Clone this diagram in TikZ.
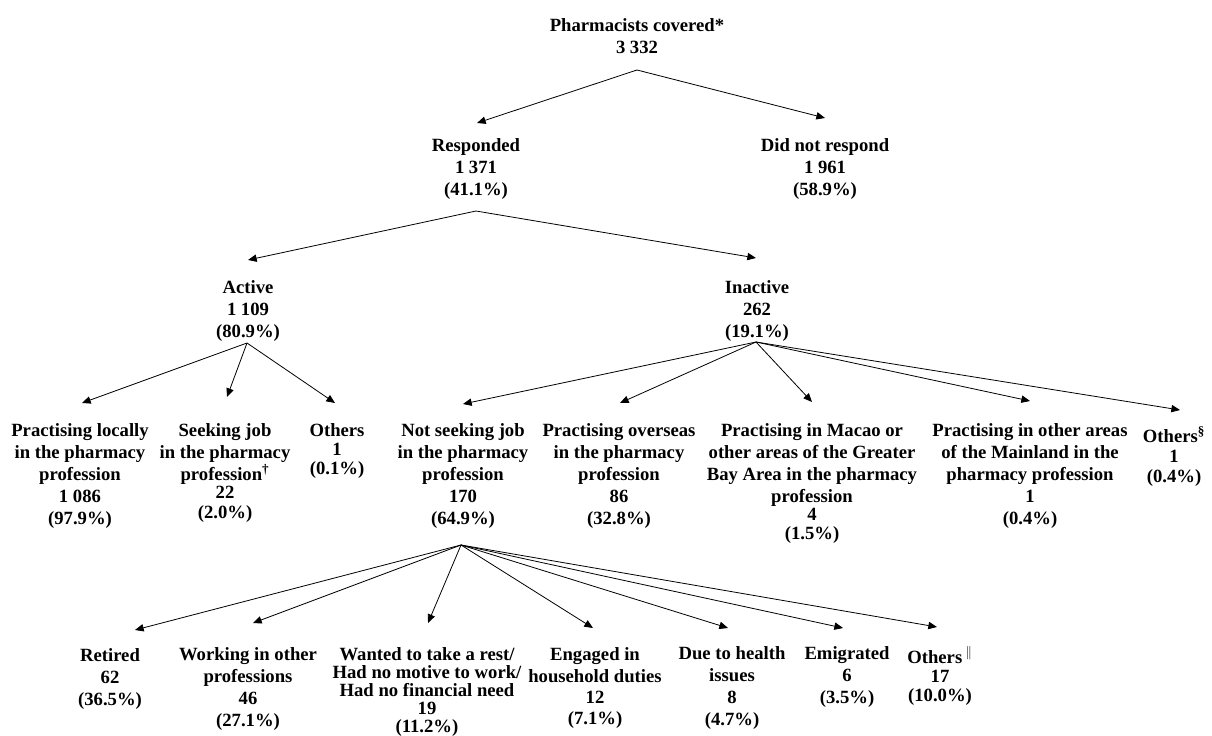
\documentclass[tikz,border=0pt]{standalone}
\usepackage{fontspec}
\setmainfont{Liberation Serif}
\usetikzlibrary{arrows.meta,calc}
\tikzset{
  lbl/.style={align=center, inner sep=0pt, anchor=north,
    font=\bfseries\fontsize{14}{16.5}\selectfont},
  arr/.style={line width=0.6pt, -{Triangle[length=6.5pt,width=5.5pt]}}
}
\begin{document}
\begin{tikzpicture}[x=0.75pt,y=-0.75pt]
\useasboundingbox[fill=white] (0,0) rectangle (1212,735);
% level 0-2
\node[lbl] (top) at (637,16) {\strut Pharmacists covered*\\3 332};
\node[lbl] (resp) at (476,136) {\strut Responded\\1 371\\(41.1\%)};
\node[lbl] (nresp) at (825,136) {\strut Did not respond\\1 961\\(58.9\%)};
\node[lbl] (act) at (248,278) {\strut Active\\1 109\\(80.9\%)};
\node[lbl] (inact) at (757,278) {\strut Inactive\\262\\(19.1\%)};
% level 3
\node[lbl] (loc) at (80,421) {\strut Practising locally\\in the pharmacy\\profession\\1 086\\(97.9\%)};
\node[lbl] (seek) at (225,421) {\strut Seeking job\\in the pharmacy\\profession\textsuperscript{\dag}\\[-3pt]22\\[-2pt](2.0\%)};
\node[lbl] (oth1) at (337,421) {\strut Others\\[-2.25pt]1\\[-2.25pt](0.1\%)};
\node[lbl] (nseek) at (463,421) {\strut Not seeking job\\in the pharmacy\\profession\\170\\(64.9\%)};
\node[lbl] (over) at (619,421) {\strut Practising overseas\\in the pharmacy\\profession\\86\\(32.8\%)};
\node[lbl] (macao) at (812,421) {\strut Practising in Macao or\\other areas of the Greater\\Bay Area in the pharmacy\\profession\\[-3pt]4\\[-2.25pt](1.5\%)};
\node[lbl] (main) at (1030,421) {\strut Practising in other areas\\of the Mainland in the\\pharmacy profession\\1\\(0.4\%)};
\node[lbl] (oth2) at (1174,426) {\strut Others\textsuperscript{\S}\\[-1.5pt]1\\[-1.5pt](0.4\%)};
% level 4
\node[lbl] (ret) at (110,646) {\strut Retired\\62\\(36.5\%)};
\node[lbl] (work) at (248,645) {\strut Working in other\\professions\\46\\(27.1\%)};
\node[lbl] (want) at (427,645) {\strut Wanted to take a rest/\\[-3pt]Had no motive to work/\\[-3pt]Had no financial need\\[-3pt]19\\[-3pt](11.2\%)};
\node[lbl] (eng) at (595,645) {\strut Engaged in\\household duties\\[-0.75pt]12\\[-0.75pt](7.1\%)};
\node[lbl] (due) at (732,644) {\strut Due to health\\issues\\8\\(4.7\%)};
\node[lbl] (emi) at (847,644) {\strut Emigrated\\6\\(3.5\%)};
\node[lbl] (oth3) at (940,646) {\strut Others\,$^{\|}$\\[-2.25pt]17\\[-2.25pt](10.0\%)};
% hubs
\coordinate (h0) at (637,70);
\coordinate (h1) at (476,211);
\coordinate (hA) at (247,343);
\coordinate (hI) at (756,342);
\coordinate (hN) at (461,545);
% connectors
\draw[arr] (h0) -- ($(resp.north)+(1,-13)$);
\draw[arr] (h0) -- ($(nresp.north)+(0,-18)$);
\draw[arr] (h1) -- ($(act.north)+(0,-18)$);
\draw[arr] (h1) -- ($(inact.north)+(-1,-20)$);
\draw[arr] (hA) -- ($(loc.north)+(2,-18)$);
\draw[arr] (hA) -- ($(seek.north)+(2,-24)$);
\draw[arr] (hA) -- ($(oth1.north)+(-2,-18)$);
\draw[arr] (hI) -- ($(nseek.north)+(0,-17)$);
\draw[arr] (hI) -- ($(over.north)+(1,-18)$);
\draw[arr] (hI) -- ($(macao.north)+(0,-19)$);
\draw[arr] (hI) -- ($(main.north)+(0,-20)$);
\draw[arr] (hI) -- ($(oth2.north)+(6,-16)$);
\draw[arr] (hN) -- ($(ret.north)+(25,-16)$);
\draw[arr] (hN) -- ($(work.north)+(5,-22)$);
\draw[arr] (hN) -- ($(want.north)+(1,-22)$);
\draw[arr] (hN) -- ($(eng.north)+(-2,-17)$);
\draw[arr] (hN) -- ($(due.north)+(-4,-16)$);
\draw[arr] (hN) -- ($(emi.north)+(-4,-16)$);
\draw[arr] (hN) -- ($(oth3.north)+(-3,-19)$);
\end{tikzpicture}
\end{document}
